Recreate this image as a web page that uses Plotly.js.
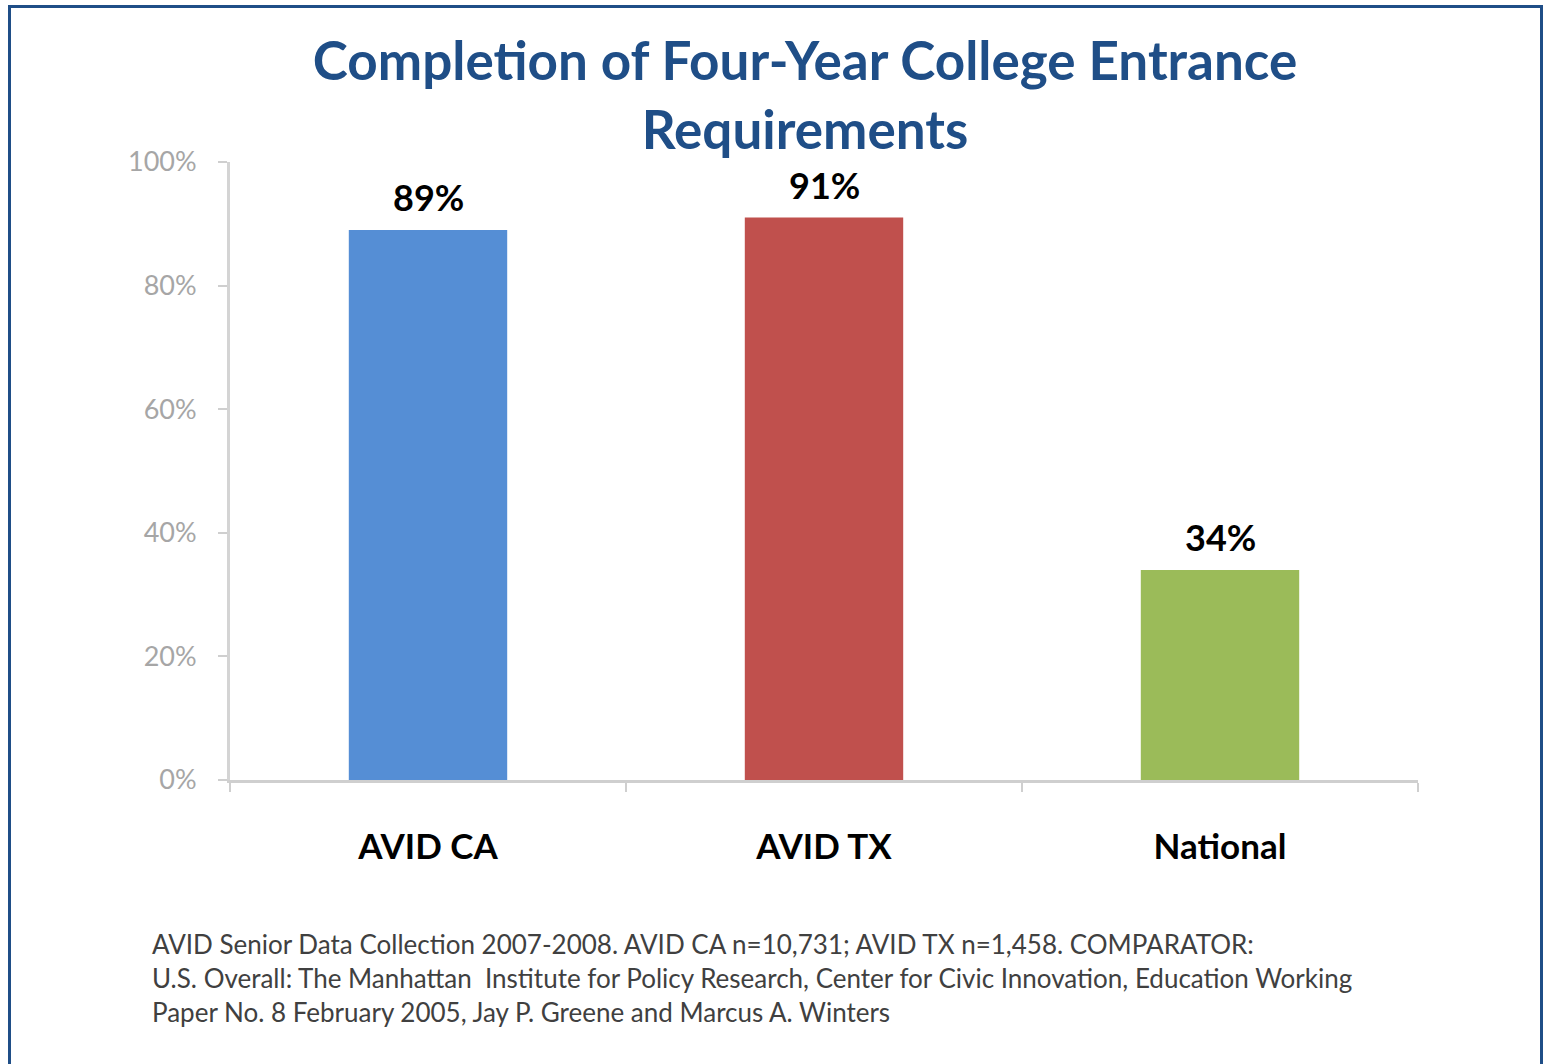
<!DOCTYPE html>
<html>
<head>
<meta charset="utf-8">
<script src="https://cdn.plot.ly/plotly-3.0.1.min.js"></script>
<style>
  html, body { margin: 0; padding: 0; background: #fff; overflow: hidden; }
  #wrap { position: relative; width: 1543px; height: 1064px; }
  #frame { position: absolute; left: 8px; top: 5px; width: 1535px; height: 1080px;
           border: 3px solid #1f4e87; box-sizing: border-box; pointer-events: none; z-index: 5; }
  #chart { position: absolute; left: 0; top: 0; width: 1543px; height: 1064px; }
</style>
</head>
<body>
<div id="wrap">
  <div id="chart"></div>
  <div id="frame"></div>
</div>
<script>
const categories = ["AVID CA", "AVID TX", "National"];
const values = [89, 91, 34];
const barColors = ["#558ed5", "#c0504d", "#9bbb59"];
const yTickVals = [0, 20, 40, 60, 80, 100];
const yTickText = ["0%", "20%", "40%", "60%", "80%", "100%"];
const titleText = "Completion of Four-Year College Entrance<br>Requirements";
const footnoteLines = [
  "AVID Senior Data Collection 2007-2008. AVID CA n=10,731; AVID TX n=1,458. COMPARATOR:",
  "U.S. Overall: The Manhattan  Institute for Policy Research, Center for Civic Innovation, Education Working",
  "Paper No. 8 February 2005, Jay P. Greene and Marcus A. Winters"
];

const FONT = "Lato, 'Open Sans', sans-serif";

const trace = {
  type: "bar",
  x: categories,
  y: values,
  marker: { color: barColors, line: { width: 0 } },
  hoverinfo: "skip"
};

const labelAnnotations = categories.map((c, i) => ({
  xref: "x", yref: "y",
  x: c, y: values[i],
  xanchor: "center", yanchor: "bottom",
  yshift: 9,
  showarrow: false,
  text: "<b>" + values[i] + "%</b>",
  font: { family: FONT, size: 36, color: "#000" }
}));

const footnote = {
  xref: "paper", yref: "paper",
  x: -0.067, y: -0.236,
  xanchor: "left", yanchor: "top",
  align: "left",
  showarrow: false,
  text: footnoteLines.join("<br>"),
  font: { family: FONT, size: 26, color: "#404040" }
};

const layout = {
  width: 1543, height: 1064,
  margin: { l: 230, r: 125, t: 162, b: 284 },
  paper_bgcolor: "#fff",
  plot_bgcolor: "#fff",
  showlegend: false,
  bargap: 0.6,
  title: {
    text: "<b>" + titleText + "</b>",
    font: { family: FONT, size: 53, color: "#1f4e87" },
    xref: "container", yref: "container",
    x: 805 / 1543, xanchor: "center",
    y: 1 - 80 / 1064, yanchor: "top"
  },
  xaxis: {
    type: "category",
    showgrid: false,
    showline: true, linecolor: "#cfcfcf", linewidth: 3,
    ticks: "outside", tickson: "boundaries", ticklen: 9, tickcolor: "#cfcfcf", tickwidth: 2,
    tickfont: { family: FONT, size: 35, color: "#000" },
    tickvals: categories,
    ticktext: categories.map(c => "<b>" + c + "</b>"),
    ticklabelstandoff: 34,
    zeroline: false
  },
  yaxis: {
    range: [0, 100],
    showgrid: false,
    showline: true, linecolor: "#d4d4d4", linewidth: 3,
    ticks: "outside", ticklen: 9, tickcolor: "#cfcfcf", tickwidth: 2,
    tickvals: yTickVals, ticktext: yTickText,
    tickfont: { family: FONT, size: 27, color: "#a6a6a6" },
    ticklabelstandoff: 16,
    zeroline: false
  },
  annotations: labelAnnotations.concat([footnote])
};

Plotly.newPlot("chart", [trace], layout, { displayModeBar: false, staticPlot: true });
</script>
</body>
</html>
